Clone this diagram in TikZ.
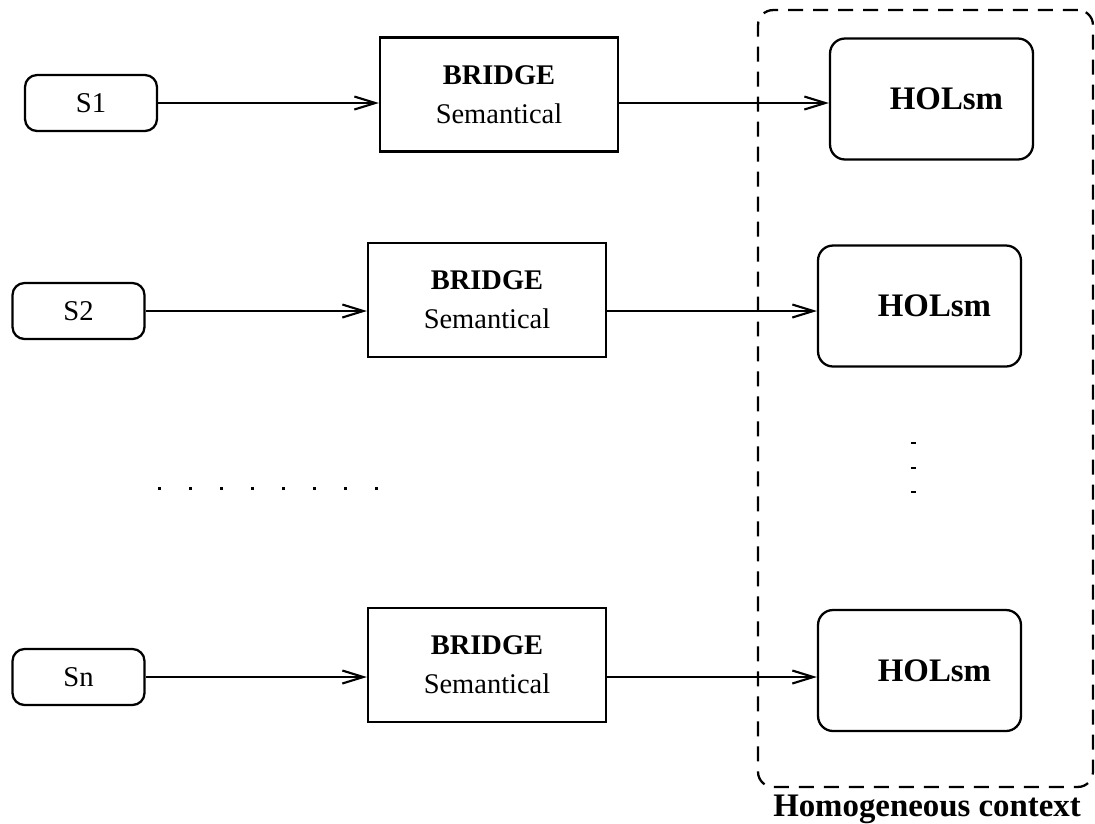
\documentclass[tikz,border=0pt]{standalone}
\usepackage{fontspec}
\setmainfont{Liberation Serif}
\usetikzlibrary{arrows.meta}

\tikzset{
  srcbox/.style={rectangle, rounded corners=0.24cm, draw, line width=1.3pt, minimum width=2.64cm, minimum height=1.12cm, font=\fontsize{16.3}{20}\selectfont},
  bridgebox/.style={rectangle, draw, line width=1.3pt, minimum width=4.76cm, minimum height=2.28cm, align=center, font=\fontsize{16.2}{22}\selectfont},
  holbox/.style={rectangle, rounded corners=0.3cm, draw, line width=1.3pt, minimum width=4.06cm, minimum height=2.42cm, font=\bfseries\fontsize{18.7}{22}\selectfont},
  ctxbox/.style={rectangle, rounded corners=0.3cm, draw, line width=1.3pt, dash pattern=on 0.3cm off 0.2cm, minimum width=6.7cm, minimum height=15.54cm},
  flow/.style={-{Straight Barb[length=0.42cm, width=0.26cm]}, line width=1.2pt},
}

\begin{document}
\begin{tikzpicture}[x=0.02cm, y=-0.02cm]
        \useasboundingbox (0,0) rectangle (1095,823);

        \node[ctxbox] at (925.5,398.5) (CTX) {};
        \node[font=\bfseries\fontsize{18.7}{22}\selectfont] at (927,809) (CTXL) {Homogeneous context};

        \node[srcbox] at (91,103) (S1) {S1};
        \node[srcbox] at (78.5,311) (S2) {S2};
        \node[srcbox] at (78.5,677) (SN) {Sn};

        \node[bridgebox] at (499,94.5) (B1) {\textbf{BRIDGE}\\Semantical};
        \node[bridgebox] at (487,300) (B2) {\textbf{BRIDGE}\\Semantical};
        \node[bridgebox] at (487,665) (B3) {\textbf{BRIDGE}\\Semantical};

        \node[holbox] at (931.5,99) (H1) {\hspace*{0.6cm}HOLsm};
        \node[holbox] at (919.5,306) (H2) {\hspace*{0.6cm}HOLsm};
        \node[holbox] at (919.5,670.5) (H3) {\hspace*{0.6cm}HOLsm};

        \draw [flow] (S1) -- (S1 -| B1.west);
        \draw [flow] (S1 -| B1.east) -- (S1 -| H1.west);
        \draw [flow] (S2) -- (S2 -| B2.west);
        \draw [flow] (S2 -| B2.east) -- (S2 -| H2.west);
        \draw [flow] (SN) -- (SN -| B3.west);
        \draw [flow] (SN -| B3.east) -- (SN -| H3.west);

        % elided rows
        \foreach \i in {0,...,7}
            \fill (159+31*\i-1.5,486.5) rectangle ++(3,3);
        \foreach \j in {443,468,492}
            \fill (910.5,\j-1) rectangle ++(5,2);

    \end{tikzpicture}
\end{document}
